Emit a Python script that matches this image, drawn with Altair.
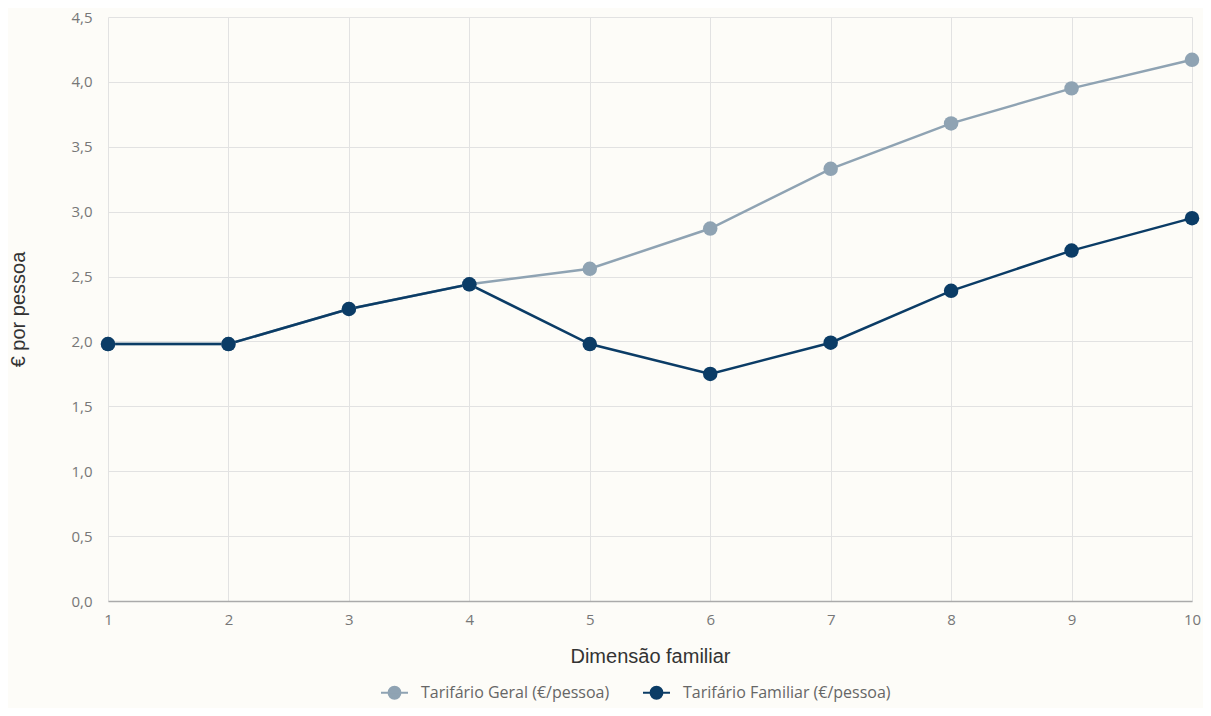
import altair as alt
import pandas as pd

dimensao = [1, 2, 3, 4, 5, 6, 7, 8, 9, 10]
geral = [1.98, 1.98, 2.25, 2.44, 2.56, 2.87, 3.33, 3.68, 3.95, 4.17]
familiar = [1.98, 1.98, 2.25, 2.44, 1.98, 1.75, 1.99, 2.39, 2.70, 2.95]
series = ["Tarifário Geral (€/pessoa)", "Tarifário Familiar (€/pessoa)"]
colors = ["#8fa3b3", "#0b3c66"]

rows = []
for name, vals in zip(series, [geral, familiar]):
    for d, v in zip(dimensao, vals):
        rows.append({"dim": d, "valor": v, "serie": name})
df = pd.DataFrame(rows)

font = "Open Sans"
sym_path = "M-1,0L1,0M0.44,0A0.44,0.44,0,1,1,-0.44,0A0.44,0.44,0,1,1,0.44,0Z"

W, H = 1084, 584

color_scale = alt.Scale(domain=series, range=colors)

x = alt.X("dim:Q", scale=alt.Scale(domain=[1, 10], nice=False, zero=False),
          axis=alt.Axis(values=dimensao, title="Dimensão familiar", grid=True,
                        ticks=False, labelPadding=11, labelFlush=False,
                        titleY=55, titleBaseline="middle"))
y = alt.Y("valor:Q", scale=alt.Scale(domain=[0, 4.5], nice=False),
          axis=alt.Axis(values=[0, 0.5, 1, 1.5, 2, 2.5, 3, 3.5, 4, 4.5],
                        title="€ por pessoa", domain=False, ticks=False,
                        labelPadding=16,
                        labelExpr="replace(format(datum.value, '.1f'), '.', ',')",
                        titleX=-90, titleY=H / 2, titleAngle=-90,
                        titleBaseline="middle"))

leg = dict(title=None, orient="none", direction="horizontal",
           legendX=272, legendY=H + 77,
           symbolType=sym_path, symbolSize=729,
           symbolStrokeWidth=2, labelOffset=12,
           columnPadding=29, labelLimit=0,
           labelFont=font, labelFontSize=16, labelColor="#666666",
           symbolOpacity=1)

lines = alt.Chart(df).mark_line(strokeWidth=2.5).encode(
    x=x, y=y,
    color=alt.Color("serie:N", scale=color_scale, sort=series,
                    legend=alt.Legend(**leg)),
    detail="serie:N",
)

points = alt.Chart(df).mark_point(filled=True, size=210, opacity=1, strokeWidth=0).encode(
    x=x, y=y,
    color=alt.Color("serie:N", scale=color_scale, sort=series,
                    legend=alt.Legend(**leg)),
    stroke=alt.Stroke("serie:N", scale=color_scale, sort=series,
                      legend=alt.Legend(**leg)),
)

chart = alt.layer(lines, points).properties(
    width=W, height=H,
    background="#fdfcf8",
    padding={"left": 100, "top": 9, "right": 11, "bottom": 107},
    autosize=alt.AutoSizeParams(type="none"),
).configure_view(stroke=None).configure_axis(
    gridColor="#e2e2e2", gridWidth=1,
    labelFont=font, labelFontSize=15, labelColor="#777777",
    titleFont="Liberation Sans", titleFontSize=20, titleFontWeight="normal",
    titleColor="#333333",
    domainColor="#aaaaaa", domainWidth=1.5,
)

chart.save("out.html", embed_options={"renderer": "svg", "actions": False})
